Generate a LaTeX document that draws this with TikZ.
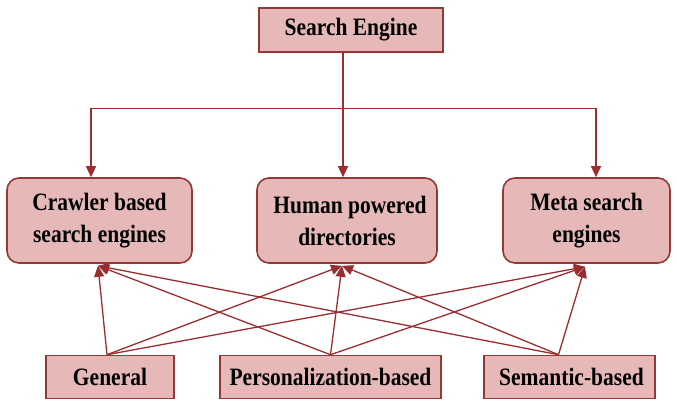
\documentclass[tikz,border=0pt]{standalone}
\usepackage{fontspec}
\setmainfont{Liberation Serif}[FakeStretch=0.86]
\usetikzlibrary{arrows.meta,calc}
\definecolor{boxfill}{HTML}{E6B9B8}
\definecolor{boxedge}{HTML}{953735}
\definecolor{linkred}{HTML}{9B2D30}
\begin{document}
\begin{tikzpicture}[x=1pt,y=-1pt,
  base/.style={draw=boxedge,fill=boxfill,line width=1.6pt,inner sep=0pt,
    font=\fontsize{25}{32}\selectfont\bfseries,align=center},
  sqbox/.style={base,rectangle},
  rbox/.style={base,rounded corners=12pt},
  link/.style={draw=linkred,line width=1.3pt},
  arr/.style={link,-{Triangle[length=11pt,width=10pt]}}]
\useasboundingbox (0,0) rectangle (677,401);

% top node
\node[sqbox,minimum width=184pt,minimum height=44pt] (se) at (351,30) {Search Engine};

% engine types
\node[rbox,minimum width=185pt,minimum height=85pt] (craw) at (99.5,220.5)
  {Crawler based\\search engines};
\node[rbox,minimum width=180pt,minimum height=85pt] (hum) at (347,220.5)
  {\hspace*{6pt}Human powered\\directories};
\node[rbox,minimum width=167pt,minimum height=85pt] (meta) at (586.5,220.5)
  {Meta search\\engines};

% search kinds
\node[sqbox,minimum width=128pt,minimum height=43pt] (gen) at (110,377) {General};
\node[sqbox,minimum width=221pt,minimum height=43pt] (pers) at (330.5,377) {Personalization-based};
\node[sqbox,minimum width=171pt,minimum height=43pt] (sem) at (569.5,377) {\hspace*{4pt}Semantic-based};

% tree from the top node
\coordinate (seB) at ($(se.south)+(-8,0)$);
\coordinate (hub) at ($(seB)+(0,56)$);
\coordinate (crawT) at ($(craw.north)+(-8.5,0)$);
\coordinate (humT) at ($(hum.north)+(-4,0)$);
\coordinate (metaT) at ($(meta.north)+(9.5,0)$);
\draw[link] (seB) -- (hub);
\draw[arr] (hub) -| (crawT);
\draw[arr] (hub) -- (humT);
\draw[arr] (hub) -| (metaT);

% links from the kinds to the engine types
\coordinate (genT) at ($(gen.north)+(-3,0)$);
\coordinate (persT) at (pers.north);
\coordinate (semT) at ($(sem.north)+(-11,0)$);
\coordinate (crawB) at ($(craw.south)+(-1.5,2)$);
\coordinate (humB) at ($(hum.south)+(-5,2)$);
\coordinate (metaB) at ($(meta.south)+(-1.5,3)$);
\foreach \s in {genT,persT,semT}
  \foreach \t in {crawB,humB,metaB}
    \draw[arr] (\s) -- (\t);
\end{tikzpicture}
\end{document}
